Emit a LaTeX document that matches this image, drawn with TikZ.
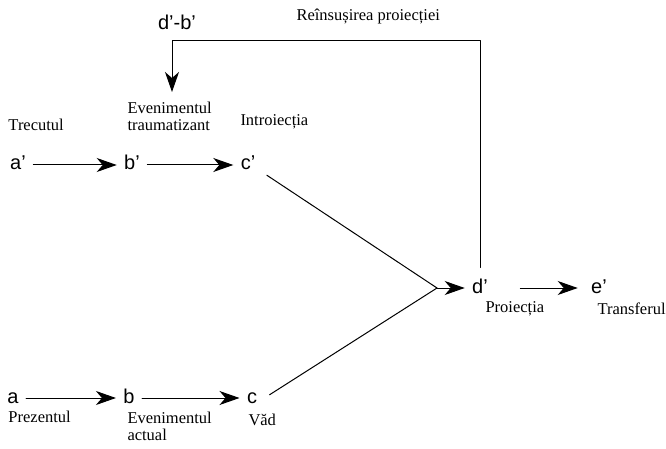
\documentclass[tikz,border=0pt]{standalone}
\usepackage{fontspec}
\setmainfont{Liberation Serif}
\newfontfamily\lettfont{Liberation Sans}
\usetikzlibrary{arrows.meta,positioning}

\tikzset{
  lett/.style={font=\lettfont\fontsize{20}{22}\selectfont, inner xsep=7pt, inner ysep=2pt, text height=10pt, text depth=0pt},
  lbl/.style={font=\fontsize{16.5}{17}\selectfont, inner sep=0pt, align=left},
  arr/.style={-{Stealth[length=20pt,width=14pt,inset=6pt]}, line width=1pt},
}

\begin{document}
\begin{tikzpicture}[x=1pt, y=-1pt, line cap=round, line join=round, line width=1pt]
                \useasboundingbox (0,0) rectangle (666,449);

                % Trecutul
                \node[lett] (ap) at (18,165) {a’};
                \node[lett] (bp) at (132,165) {b’};
                \node[lett] (cp) at (248,165) {c’};
                \node[lbl, anchor=west] (trec) at (8,125) {Trecutul};
                \node[lbl, anchor=north west] (trau) at (127,102) {Evenimentul\\traumatizant};
                \node[lbl, anchor=west] (intro) at (240,122) {Introiecția};

                % Prezentul
                \node[lett] (a) at (13,398) {a};
                \node[lett] (b) at (129,398) {b};
                \node[lett] (c) at (252,398) {c};
                \node[lbl, anchor=west] (prez) at (8,417) {Prezentul};
                \node[lbl, anchor=north west] (act) at (127,412) {Evenimentul\\actual};
                \node[lbl, anchor=west] (vad) at (248,420) {Văd};

                % Proiectia
                \coordinate (j) at (437,288);
                \node[lett] (dp) at (480,288) {d’};
                \node[lett] (ep) at (599,288) {e’};
                \node[lbl, anchor=west] (proi) at (485,309) {Proiecția};
                \node[lbl, anchor=west] (trans) at (597,309) {Transferul};

                % Reinsusirea
                \node[lett] (db) at (177,25) {d’-b’};
                \node[lbl, anchor=west] (reins) at (296,17) {Reînsușirea proiecției};
                \coordinate (fb) at (172,41);

                \draw[arr] (ap) -- (bp);
                \draw[arr] (bp) -- (cp);
                \draw[arr] (a) -- (b);
                \draw[arr] (b) -- (c);

                \draw[shorten <=5pt] (cp.south east) -- (j);
                \draw[shorten <=6pt] (c.east) -- (j);
                \draw[arr] (j) -- (dp);
                \draw[arr, shorten <=25pt, shorten >=6pt] (dp) -- (ep);

                \draw[arr, shorten <=13pt, shorten >=10pt] (dp.north) -- (dp.north |- fb) -- (fb) -- (fb |- trau.north);
            \end{tikzpicture}
\end{document}
